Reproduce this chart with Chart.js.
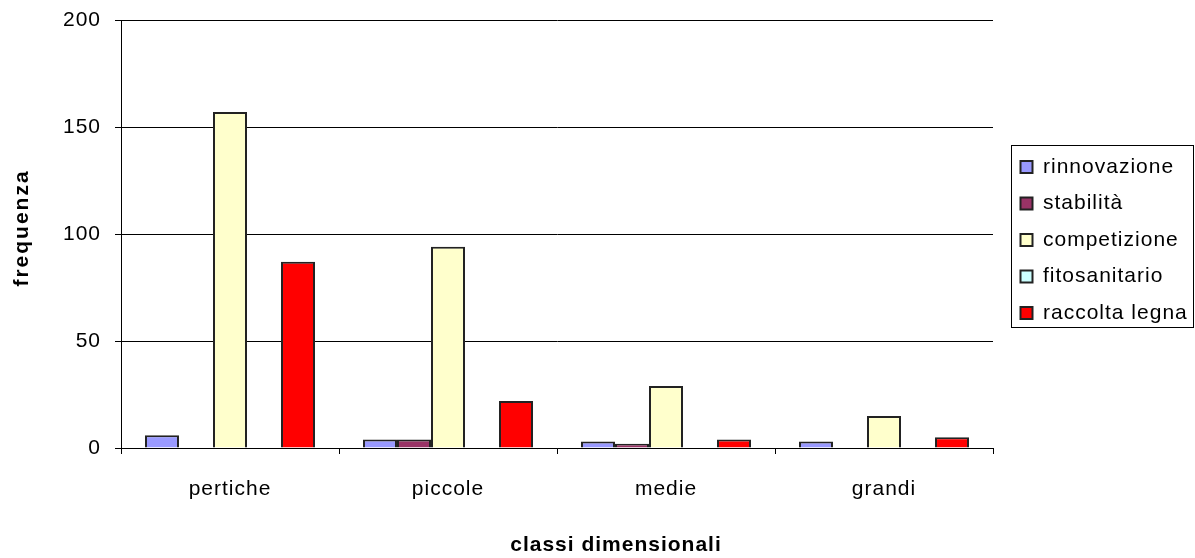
<!DOCTYPE html>
<html>
<head>
<meta charset="utf-8">
<script src="https://cdn.jsdelivr.net/npm/chart.js@4.4.1/dist/chart.umd.min.js"></script>
<style>
  html, body { margin: 0; padding: 0; background: #fff; }
  #wrap { width: 1195px; height: 558px; position: relative; }
</style>
</head>
<body>
<div id="wrap"><canvas id="c"></canvas></div>
<script>
const categories = ['pertiche', 'piccole', 'medie', 'grandi'];
const seriesNames = ['rinnovazione', 'stabilità', 'competizione', 'fitosanitario', 'raccolta legna'];
const rinnovazione = [6, 4, 3, 3];
const stabilita = [0, 4, 2, 0];
const competizione = [157, 94, 29, 15];
const fitosanitario = [0, 0, 0, 0];
const raccoltaLegna = [87, 22, 4, 5];
const yTicks = [0, 50, 100, 150, 200];
const seriesColors = ['#9999FF', '#993366', '#FFFFCC', '#CCFFFF', '#FF0000'];

const seriesValues = [rinnovazione, stabilita, competizione, fitosanitario, raccoltaLegna];
const FONT = "'Liberation Sans', Arial, sans-serif";
const LEGEND_SHIFT_X = 12;
let legendShiftY = 0;

const spacingPlugin = {
  id: 'spacing',
  beforeUpdate(chart) { chart.ctx.letterSpacing = '1px'; },
  beforeDraw(chart) { chart.ctx.letterSpacing = '1px'; },
  afterLayout(chart) {
    const patch = (scale, dx, dy, ls) => {
      if (!scale || scale._titlePatched) return;
      scale._titlePatched = true;
      const orig = scale.drawTitle;
      scale.drawTitle = function () {
        const ctx = this.ctx;
        ctx.save();
        ctx.translate(dx, dy);
        ctx.letterSpacing = ls;
        orig.call(this);
        ctx.restore();
      };
    };
    patch(chart.scales.x, 59, 0, '1px');
    patch(chart.scales.y, 0, -6, '2px');
  },
  afterUpdate(chart) {
    const lg = chart.legend;
    if (lg && lg.legendHitBoxes && lg.legendHitBoxes.length) {
      const f = lg.legendHitBoxes[0];
      legendShiftY = 167 - (f.top + f.height / 2);
    }
  }
};

const legendBorder = {
  id: 'legendBorder',
  afterInit(chart) {
    const lg = chart.legend;
    if (lg) {
      const origFit = lg.fit;
      lg.fit = function () { origFit.call(this); this.width = 202; };
      const origDraw = lg.draw;
      lg.draw = function () {
        const ctx = this.ctx;
        ctx.save();
        ctx.translate(LEGEND_SHIFT_X, legendShiftY);
        origDraw.call(this);
        ctx.restore();
      };
    }
  },
  afterDraw(chart) {
    const lg = chart.legend;
    if (!lg || !lg.legendHitBoxes || !lg.legendHitBoxes.length) return;
    const hb = lg.legendHitBoxes;
    const first = hb[0], last = hb[hb.length - 1];
    const ctx = chart.ctx;
    ctx.save();
    ctx.strokeStyle = '#000';
    ctx.lineWidth = 1;
    const x0 = Math.round(first.left + LEGEND_SHIFT_X - 10) + 0.5;
    const y0 = Math.round(first.top + legendShiftY + first.height / 2 - 22) + 0.5;
    const x1 = 1193.5;
    const y1 = Math.round(last.top + legendShiftY + last.height / 2 + 14) + 0.5;
    ctx.strokeRect(x0, y0, x1 - x0, y1 - y0);
    ctx.restore();
  }
};

new Chart(document.getElementById('c'), {
  type: 'bar',
  data: {
    labels: categories,
    datasets: seriesNames.map((name, i) => ({
      label: name,
      data: seriesValues[i],
      backgroundColor: seriesColors[i],
      borderColor: '#222',
      borderWidth: 2,
      borderSkipped: 'bottom',
      categoryPercentage: 0.78,
      barPercentage: 1.0
    }))
  },
  options: {
    responsive: true,
    maintainAspectRatio: false,
    animation: false,
    devicePixelRatio: 1,
    layout: { padding: { top: 20, right: 0, bottom: 0, left: 0 } },
    plugins: {
      tooltip: { enabled: false },
      legend: {
        position: 'right',
        fullSize: false,
        align: 'center',
        labels: {
          color: '#000',
          font: { family: FONT, size: 21 },
          boxWidth: 12,
          boxHeight: 12,
          padding: 15.5
        }
      }
    },
    scales: {
      x: {
        afterFit(scale) { scale.height = 110; scale.paddingTop = 0; scale.paddingBottom = 0; },
        grid: {
          display: true,
          offset: true,
          drawOnChartArea: false,
          drawTicks: true,
          tickLength: 6,
          color: '#000',
          lineWidth: 1
        },
        border: { display: true, color: '#000', width: 1 },
        ticks: {
          color: '#000',
          font: { family: FONT, size: 21 },
          padding: 23
        },
        title: {
          display: true,
          text: 'classi dimensionali',
          color: '#000',
          font: { family: FONT, size: 21, weight: 'bold' },
          padding: { top: 0, bottom: 0 }
        }
      },
      y: {
        min: 0,
        max: 200,
        afterFit(scale) { scale.width = 121; scale.paddingTop = 0; scale.paddingBottom = 0; },
        afterBuildTicks(scale) { scale.ticks = yTicks.map(v => ({ value: v })); },
        grid: {
          display: true,
          drawOnChartArea: true,
          drawTicks: true,
          tickLength: 6,
          color: '#000',
          lineWidth: 1
        },
        border: { display: true, color: '#000', width: 1 },
        ticks: {
          color: '#000',
          font: { family: FONT, size: 21 },
          padding: 14
        },
        title: {
          display: true,
          text: 'frequenza',
          color: '#000',
          font: { family: FONT, size: 21, weight: 'bold' },
          padding: { top: 10, bottom: 0 }
        }
      }
    }
  },
  plugins: [spacingPlugin, legendBorder]
});
</script>
</body>
</html>
